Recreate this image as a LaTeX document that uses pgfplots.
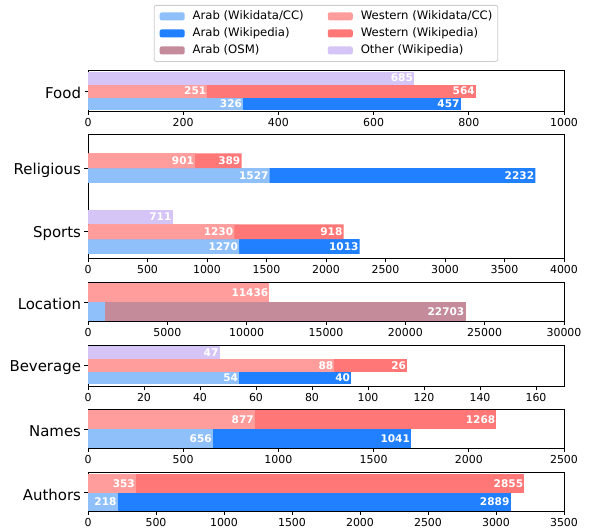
\documentclass[border=0pt]{standalone}
\usepackage{fontspec}
\setmainfont{DejaVu Sans}
\usepackage{pgfplots}
\usepackage{pgfplotstable}
\pgfplotsset{compat=1.18}
\definecolor{awc}{HTML}{8FC0F9}
\definecolor{awp}{HTML}{2080FF}
\definecolor{aosm}{HTML}{C48B9B}
\definecolor{wwc}{HTML}{FF9D9D}
\definecolor{wwp}{HTML}{FF7777}
\definecolor{oth}{HTML}{D4C5F6}

% Food
\pgfplotstableread{
y base inc
0 326 457
}\foodA
\pgfplotstableread{
y base inc
1 251 564
}\foodW
\pgfplotstableread{
y val
2 685
}\foodO
% Religious (upper) / Sports (lower)
\pgfplotstableread{
y base inc
0 1270 1013
4.83 1527 2232
}\rsA
\pgfplotstableread{
y base inc
1 1230 918
5.83 901 389
}\rsW
\pgfplotstableread{
y val
2 711
}\rsO
% Location
\pgfplotstableread{
y base inc
0 1090 22703
}\locA
\pgfplotstableread{
y val
1 11436
}\locW
% Beverage
\pgfplotstableread{
y base inc
0 54 40
}\bevA
\pgfplotstableread{
y base inc
1 88 26
}\bevW
\pgfplotstableread{
y val
2 47
}\bevO
% Names
\pgfplotstableread{
y base inc
0 656 1041
}\namA
\pgfplotstableread{
y base inc
1 877 1268
}\namW
% Authors
\pgfplotstableread{
y base inc
0 218 2889
}\autA
\pgfplotstableread{
y base inc
1 353 2855
}\autW

\pgfplotsset{
 panel/.style={
  scale only axis, width=476bp,
  xmin=0, axis line style={line width=0.8bp},
  tick align=outside, xtick pos=left, ytick pos=left,
  major tick length=3.5bp, tick style={black, line width=0.8bp},
  xticklabel style={font=\fontsize{11}{13}\selectfont},
  yticklabel style={font=\fontsize{15}{18}\selectfont, yshift=-2bp},
  /pgf/number format/assume math mode=true,
  /pgf/number format/1000 sep={},
  scaled x ticks=false,
  anchor=north west,
 },
 seg/.style={xbar, bar width=1, bar shift=0pt, draw=none},
 lbl/.style={nodes near coords, point meta=explicit symbolic,
   nodes near coords style={anchor=east, text=white, font=\bfseries\fontsize{10.6}{12}\selectfont, inner xsep=1bp, inner ysep=0bp}},
 patch legend/.style={legend image code/.code={\fill[##1] (0bp,-4bp) rectangle (25bp,4bp);}},
}
% total of a stacked bar, labelled with its upper segment
\newcommand\stackpair[3]{%
  \addplot[seg, fill=#3, lbl] table[x expr=\thisrow{base}+\thisrow{inc}, y=y, meta=inc] {#1};
  \addplot[seg, fill=#2, lbl] table[x=base, y=y, meta=base] {#1};
}

\begin{document}
\begin{tikzpicture}
\path[use as bounding box] (0,0) rectangle (590bp,-528bp);

% legend
\begin{axis}[at={(88bp,-70bp)}, anchor=north west, scale only axis, width=476bp, height=41bp,
  hide axis, xmin=0, xmax=1, ymin=0, ymax=1, legend columns=2,
  legend style={at={(0.5,1)}, anchor=north, yshift=65bp, draw=black!20, rounded corners=2bp,
    line width=0.8bp, font=\fontsize{11.7}{14}\selectfont, inner xsep=5.5bp, inner ysep=5bp, row sep=5bp,
    nodes={inner sep=0bp, text height=9bp, text depth=3bp},
    /tikz/every odd column/.append style={column sep=8bp},
    /tikz/every even column/.append style={column sep=24bp}},
  legend cell align=left]
\addlegendimage{patch legend, fill=awc, draw=none}\addlegendentry{Arab (Wikidata/CC)}
\addlegendimage{patch legend, fill=wwc, draw=none}\addlegendentry{Western (Wikidata/CC)}
\addlegendimage{patch legend, fill=awp, draw=none}\addlegendentry{Arab (Wikipedia)}
\addlegendimage{patch legend, fill=wwp, draw=none}\addlegendentry{Western (Wikipedia)}
\addlegendimage{patch legend, fill=aosm, draw=none}\addlegendentry{Arab (OSM)}
\addlegendimage{patch legend, fill=oth, draw=none}\addlegendentry{Other (Wikipedia)}
\end{axis}

% Food
\begin{axis}[panel, at={(88bp,-70bp)}, height=41bp, xmax=1000, xtick={0,200,...,1000},
  ymin=-0.54, ymax=2.62, ytick={1}, yticklabels={Food}]
\stackpair{\foodA}{awc}{awp}
\stackpair{\foodW}{wwc}{wwp}
\addplot[seg, fill=oth, lbl] table[x=val, y=y, meta=val] {\foodO};
\end{axis}

% Religious / Sports
\begin{axis}[panel, at={(88bp,-134bp)}, height=124bp, xmax=4000, xtick={0,500,...,4000},
  ymin=-0.78, ymax=7.65, ytick={1,5.33}, yticklabels={Sports,Religious}]
\stackpair{\rsA}{awc}{awp}
\stackpair{\rsW}{wwc}{wwp}
\addplot[seg, fill=oth, lbl] table[x=val, y=y, meta=val] {\rsO};
\end{axis}

% Location
\begin{axis}[panel, at={(88bp,-282bp)}, height=39bp, xmax=30000, xtick={0,5000,...,30000},
  ymin=-0.5, ymax=1.55, ytick={0.5}, yticklabels={Location}]
\addplot[seg, fill=aosm, lbl] table[x expr=\thisrow{base}+\thisrow{inc}, y=y, meta=inc] {\locA};
\addplot[seg, fill=awc] table[x=base, y=y] {\locA};
\addplot[seg, fill=wwc, lbl] table[x=val, y=y, meta=val] {\locW};
\end{axis}

% Beverage
\begin{axis}[panel, at={(88bp,-345bp)}, height=41bp, xmax=170, xtick={0,20,...,160},
  ymin=-0.63, ymax=2.6, ytick={1}, yticklabels={Beverage}]
\stackpair{\bevA}{awc}{awp}
\stackpair{\bevW}{wwc}{wwp}
\addplot[seg, fill=oth, lbl] table[x=val, y=y, meta=val] {\bevO};
\end{axis}

% Names
\begin{axis}[panel, at={(88bp,-409bp)}, height=39bp, xmax=2500, xtick={0,500,...,2500},
  ymin=-0.5, ymax=1.55, ytick={0.5}, yticklabels={Names}]
\stackpair{\namA}{awc}{awp}
\stackpair{\namW}{wwc}{wwp}
\end{axis}

% Authors
\begin{axis}[panel, at={(88bp,-472bp)}, height=39bp, xmax=3500, xtick={0,500,...,3500},
  ymin=-0.49, ymax=1.62, ytick={0.5}, yticklabels={Authors}]
\stackpair{\autA}{awc}{awp}
\stackpair{\autW}{wwc}{wwp}
\end{axis}
\end{tikzpicture}
\end{document}
